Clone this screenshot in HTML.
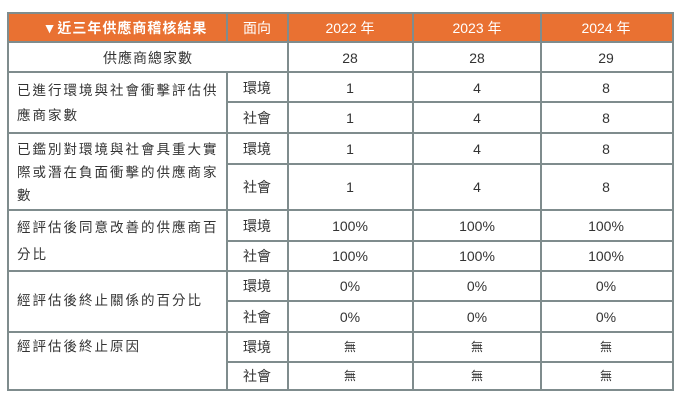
<!DOCTYPE html>
<html><head><meta charset="utf-8"><style>
body{margin:0;width:685px;height:405px;background:#fff;position:relative;overflow:hidden;font-family:"Liberation Sans","Noto Sans CJK TC",sans-serif;color:#333;}
.h{position:absolute;background:#7f8c8d;height:2px}
.v{position:absolute;background:#7f8c8d;width:2px}
.t{position:absolute;font-size:14px;line-height:20px;text-align:center;transform:translate(-50%,-50%);white-space:nowrap}
.l{position:absolute;font-size:13.5px;line-height:20px;letter-spacing:2px;white-space:nowrap;left:17px;transform:translateY(-50%)}
.w{color:#fff}
</style></head><body>
<div style="position:absolute;left:8px;top:13px;width:665px;height:29px;background:#e97132"></div>
<div class="h" style="left:7px;top:12px;width:667px"></div>
<div class="h" style="left:7px;top:41px;width:667px"></div>
<div class="h" style="left:7px;top:71px;width:667px"></div>
<div class="h" style="left:227px;top:101px;width:447px"></div>
<div class="h" style="left:7px;top:132px;width:667px"></div>
<div class="h" style="left:227px;top:163px;width:447px"></div>
<div class="h" style="left:7px;top:209px;width:667px"></div>
<div class="h" style="left:227px;top:240px;width:447px"></div>
<div class="h" style="left:7px;top:270px;width:667px"></div>
<div class="h" style="left:227px;top:300px;width:447px"></div>
<div class="h" style="left:7px;top:331px;width:667px"></div>
<div class="h" style="left:227px;top:361px;width:447px"></div>
<div class="h" style="left:7px;top:389px;width:667px"></div>
<div class="v" style="left:7px;top:12px;height:379px"></div>
<div class="v" style="left:226px;top:12px;height:30px"></div>
<div class="v" style="left:226px;top:71px;height:320px"></div>
<div class="v" style="left:287px;top:12px;height:379px"></div>
<div class="v" style="left:412px;top:12px;height:379px"></div>
<div class="v" style="left:540px;top:12px;height:379px"></div>
<div class="v" style="left:672px;top:12px;height:379px"></div>

<div class="t w" style="left:125px;top:28px;font-weight:bold;letter-spacing:1px">▼近三年供應商稽核結果</div>
<div class="t w" style="left:257px;top:28px">面向</div>
<div class="t w" style="left:350px;top:28px">2022 年</div>
<div class="t w" style="left:477px;top:28px">2023 年</div>
<div class="t w" style="left:606px;top:28px">2024 年</div>

<div class="t" style="left:148px;top:58px;letter-spacing:1px">供應商總家數</div>
<div class="t" style="left:350px;top:58px">28</div><div class="t" style="left:477px;top:58px">28</div><div class="t" style="left:606px;top:58px">29</div>

<div class="l" style="top:91px">已進行環境與社會衝擊評估供</div>
<div class="l" style="top:116px">應商家數</div>
<div class="l" style="top:150px">已鑑別對環境與社會具重大實</div>
<div class="l" style="top:173px">際或潛在負面衝擊的供應商家</div>
<div class="l" style="top:196px">數</div>
<div class="l" style="top:228px">經評估後同意改善的供應商百</div>
<div class="l" style="top:255px">分比</div>
<div class="l" style="top:301px">經評估後終止關係的百分比</div>
<div class="l" style="top:347px">經評估後終止原因</div>

<div class="t" style="left:257px;top:88px">環境</div><div class="t" style="left:257px;top:118px">社會</div>
<div class="t" style="left:257px;top:149px">環境</div><div class="t" style="left:257px;top:187px">社會</div>
<div class="t" style="left:257px;top:226px">環境</div><div class="t" style="left:257px;top:256px">社會</div>
<div class="t" style="left:257px;top:286px">環境</div><div class="t" style="left:257px;top:317px">社會</div>
<div class="t" style="left:257px;top:347px">環境</div><div class="t" style="left:257px;top:376px">社會</div>

<div class="t" style="left:350px;top:88px">1</div><div class="t" style="left:477px;top:88px">4</div><div class="t" style="left:606px;top:88px">8</div>
<div class="t" style="left:350px;top:118px">1</div><div class="t" style="left:477px;top:118px">4</div><div class="t" style="left:606px;top:118px">8</div>
<div class="t" style="left:350px;top:149px">1</div><div class="t" style="left:477px;top:149px">4</div><div class="t" style="left:606px;top:149px">8</div>
<div class="t" style="left:350px;top:187px">1</div><div class="t" style="left:477px;top:187px">4</div><div class="t" style="left:606px;top:187px">8</div>
<div class="t" style="left:350px;top:226px">100%</div><div class="t" style="left:477px;top:226px">100%</div><div class="t" style="left:606px;top:226px">100%</div>
<div class="t" style="left:350px;top:256px">100%</div><div class="t" style="left:477px;top:256px">100%</div><div class="t" style="left:606px;top:256px">100%</div>
<div class="t" style="left:350px;top:286px">0%</div><div class="t" style="left:477px;top:286px">0%</div><div class="t" style="left:606px;top:286px">0%</div>
<div class="t" style="left:350px;top:317px">0%</div><div class="t" style="left:477px;top:317px">0%</div><div class="t" style="left:606px;top:317px">0%</div>
<div class="t" style="left:350px;top:347px;font-size:12px">無</div><div class="t" style="left:477px;top:347px;font-size:12px">無</div><div class="t" style="left:606px;top:347px;font-size:12px">無</div>
<div class="t" style="left:350px;top:376px;font-size:12px">無</div><div class="t" style="left:477px;top:376px;font-size:12px">無</div><div class="t" style="left:606px;top:376px;font-size:12px">無</div>
</body></html>
